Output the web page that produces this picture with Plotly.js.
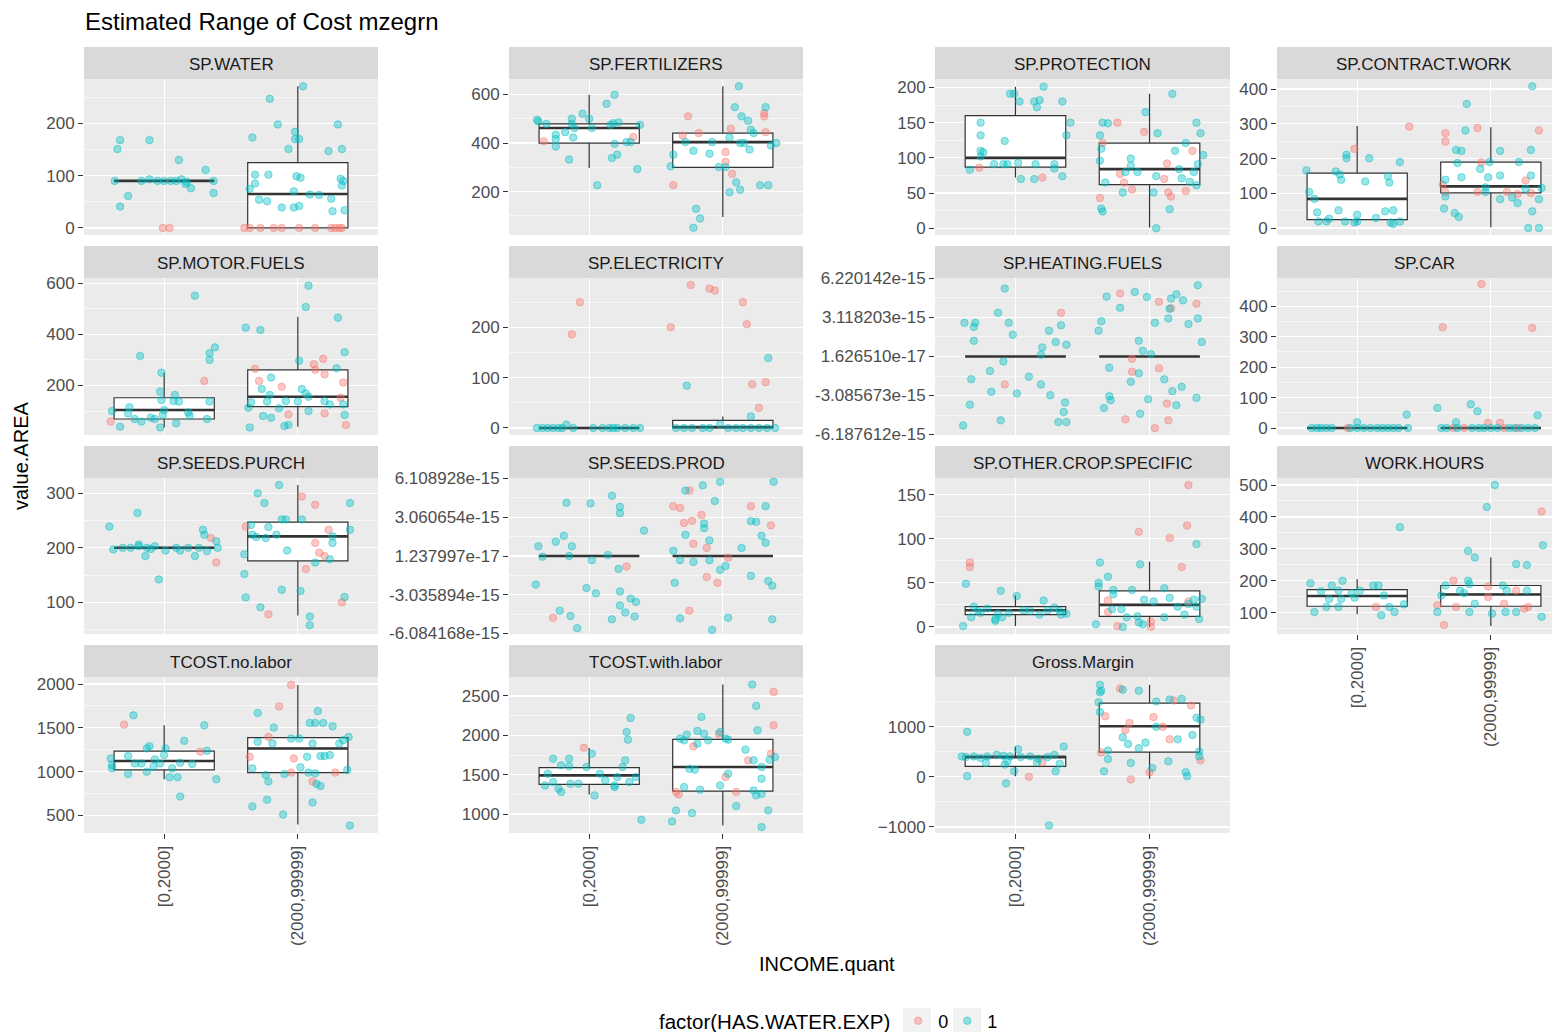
<!DOCTYPE html>
<html>
<head>
<meta charset="utf-8">
<script src="https://cdn.plot.ly/plotly-3.0.1.min.js"></script>
<style>
html,body{margin:0;padding:0;background:#ffffff;overflow:hidden}
#chart{width:1552px;height:1032px}
</style>
</head>
<body>
<div id="chart"></div>
<script>
// ---------------- DATA ----------------
const PANELS = ["SP.WATER","SP.FERTILIZERS","SP.PROTECTION","SP.CONTRACT.WORK",
  "SP.MOTOR.FUELS","SP.ELECTRICITY","SP.HEATING.FUELS","SP.CAR",
  "SP.SEEDS.PURCH","SP.SEEDS.PROD","SP.OTHER.CROP.SPECIFIC","WORK.HOURS",
  "TCOST.no.labor","TCOST.with.labor","Gross.Margin"];
const CATEGORIES = ["[0,2000]","(2000,99999]"];
const GROUPS = ["0","1"]; // HAS.WATER.EXP

// Box statistics per panel, category [0,2000]
const Q1_LOW  = [90,400,87,24,69,0,1.62651e-17,0,200,1.237997e-17,14,120,1019,1377,210];
const MED_LOW = [90,462,100,84,104,0,1.62651e-17,0,200,1.237997e-17,19,152,1121,1492,393];
const Q3_LOW  = [90,479,160,158,152,0,1.62651e-17,0,200,1.237997e-17,23,172,1234,1589,407];
const LW_LOW  = [90,297,72,16,36,0,1.62651e-17,0,200,1.237997e-17,1,95,913,1250,13];
const UW_LOW  = [90,599,201,294,250,0,1.62651e-17,0,200,1.237997e-17,36,205,1529,1839,603];
// category (2000,99999]
const Q1_HIGH  = [0,300,62,101,117,0,1.62651e-17,0,176,1.237997e-17,12,120,989,1292,492];
const MED_HIGH = [65,404,84,120,156,2,1.62651e-17,0,221,1.237997e-17,25,157,1265,1597,1010];
const Q3_HIGH  = [125,441,121,190,261,15,1.62651e-17,0,247,1.237997e-17,41,185,1389,1949,1469];
const LW_HIGH  = [0,95,1,2,39,0,1.62651e-17,0,76,1.237997e-17,0,58,395,856,-39];
const UW_HIGH  = [271,634,191,290,469,23,1.62651e-17,0,315,1.237997e-17,74,273,1990,2644,1836];

// tick labels of the two near-zero panels
const HEATING_TICKS = ["6.220142e-15","3.118203e-15","1.626510e-17","-3.085673e-15","-6.187612e-15"];
const SEEDSPROD_TICKS = ["6.108928e-15","3.060654e-15","1.237997e-17","-3.035894e-15","-6.084168e-15"];

// jittered points: [x position on INCOME.quant axis, value]
const WATER_0 = [[0.99,0],[1.04,0],[1.60,0],[1.64,0],[1.72,0],[1.82,0],[1.88,0],[2.01,0],[2.13,0],[2.25,0],[2.28,0],[2.31,0],[2.33,0]];
const WATER_1 = [[0.67,168],[0.65,151],[0.89,168],[1.11,130],[1.31,111],[0.73,61],[0.67,41],[1.37,67],[1.20,76],[0.63,90],[0.83,90],[0.89,93],[0.95,90],[1.00,90],[1.05,90],[1.09,90],[1.13,93],[1.17,88],[1.16,84],[1.37,90],
  [2.04,271],[1.79,247],[1.85,198],[2.30,198],[1.66,173],[1.98,184],[1.98,170],[2.01,170],[1.93,151],[2.33,151],[2.23,147],[1.68,102],[1.78,102],[1.68,85],[1.64,75],[1.99,99],[2.02,96],[2.32,94],[2.34,90],[2.33,81],[1.97,70],[2.09,64],[2.16,63],[1.71,54],[1.77,51],[2.25,56],[1.88,39],[1.97,39],[2.01,42],[2.26,32],[2.35,34]];

const FERT_0 = [[0.66,407],[1.33,425],[1.74,510],[2.31,523],[2.31,510],[2.06,459],[1.82,441],[1.70,431],[2.32,445],[2.02,363],[2.02,322],[2.07,273],[1.63,226]];
const FERT_1 = [[0.61,496],[0.62,489],[0.68,479],[0.75,434],[0.75,416],[0.75,386],[0.82,445],[0.85,332],[0.87,500],[0.87,479],[0.89,462],[0.88,423],[0.95,521],[1.00,500],[1.02,462],[1.06,226],[1.13,562],[1.19,599],[1.16,475],[1.18,482],[1.22,485],[1.19,397],[1.17,338],[1.21,352],[1.28,404],[1.31,404],[1.36,293],[1.38,475],
  [2.12,634],[2.09,548],[2.32,548],[2.14,510],[2.19,492],[2.23,441],[2.05,423],[1.72,404],[1.92,404],[2.13,400],[2.16,400],[2.40,400],[2.36,390],[2.20,373],[1.78,368],[1.90,356],[1.63,352],[1.97,301],[2.02,301],[1.61,304],[2.10,238],[2.13,208],[2.05,197],[2.28,226],[2.34,226],[1.80,129],[1.83,89],[1.78,51],[2.21,455]];

const PROT_0 = [[0.73,86],[1.20,72],[1.76,150],[1.96,137],[1.65,121],[2.32,110],[2.13,92],[1.78,77],[2.11,70],[1.81,65],[1.87,55],[2.14,51],[2.16,45],[2.27,53],[1.63,43]];
const PROT_1 = [[0.96,191],[0.99,191],[1.03,180],[1.14,180],[1.18,182],[1.16,172],[1.21,201],[1.35,180],[1.41,150],[1.38,132],[0.74,150],[0.74,132],[0.92,124],[0.74,110],[0.76,108],[0.74,102],[0.66,83],[0.84,91],[0.91,91],[0.94,91],[1.02,93],[1.15,91],[1.29,91],[1.29,85],[1.04,70],[1.14,70],[1.35,74],
  [2.17,191],[1.97,165],[1.65,150],[1.69,149],[2.35,150],[2.06,135],[1.63,132],[2.38,135],[2.27,121],[1.64,113],[2.19,110],[2.40,104],[1.63,96],[1.86,99],[1.86,89],[2.36,91],[1.82,80],[1.91,80],[2.22,84],[2.33,80],[2.05,74],[2.24,71],[1.67,65],[2.30,66],[2.35,61],[1.80,51],[2.03,51],[1.64,28],[1.65,24],[2.15,27],[2.05,0]];

const CONTRACT_0 = [[0.98,228],[1.39,292],[1.90,288],[2.36,281],[1.66,273],[1.66,249],[1.93,189],[1.64,125],[1.66,103],[1.90,104],[2.12,104],[2.26,137],[2.20,98],[2.30,101]];
const CONTRACT_1 = [[0.62,166],[0.64,104],[0.68,84],[0.70,45],[0.71,19],[0.77,19],[0.79,27],[0.84,163],[0.87,154],[0.88,139],[0.86,51],[0.91,19],[0.98,16],[1.00,19],[0.92,211],[0.92,201],[1.00,38],[1.06,134],[1.09,201],[1.14,29],[1.21,48],[1.27,51],[1.23,149],[1.24,131],[1.25,16],[1.27,12],[1.32,190],[1.32,19],
  [2.31,408],[1.82,357],[1.81,281],[1.74,225],[1.78,222],[2.07,222],[2.30,225],[1.75,187],[1.92,170],[1.99,190],[2.21,190],[1.78,146],[1.98,146],[2.07,151],[2.30,151],[1.66,139],[1.96,117],[1.96,104],[2.26,113],[2.38,115],[1.66,91],[2.07,83],[2.16,88],[2.20,72],[2.36,83],[1.65,56],[1.73,43],[1.76,32],[2.31,48],[2.28,0],[2.36,0]];

const MOTOR_0 = [[1.30,218],[0.60,59],[2.19,304],[2.12,283],[2.13,261],[2.20,244],[1.68,265],[1.71,218],[2.34,212],[2.32,152],[2.36,46],[2.20,91],[1.93,87],[1.88,195]];
const MOTOR_1 = [[1.23,551],[0.82,315],[0.98,250],[1.38,349],[1.34,326],[1.34,300],[0.61,100],[0.67,39],[0.74,115],[0.73,91],[0.78,69],[0.83,59],[0.90,74],[0.93,69],[0.97,36],[0.99,85],[0.97,176],[0.98,143],[1.00,104],[1.07,139],[1.08,163],[1.11,137],[1.09,52],[1.18,95],[1.19,82],[1.32,69],[1.34,137],
  [2.08,590],[2.06,507],[2.30,465],[1.61,426],[1.72,417],[2.35,330],[2.01,297],[2.29,267],[1.80,231],[1.73,186],[1.79,163],[1.77,137],[1.91,139],[2.03,186],[2.06,169],[2.08,156],[2.00,137],[1.86,111],[1.65,134],[1.63,113],[2.20,139],[2.24,126],[2.34,126],[2.35,85],[2.08,100],[1.74,81],[1.80,74],[1.93,46],[1.90,42],[1.64,36]];

const ELEC_0 = [[0.93,250],[0.87,186],[1.76,284],[1.90,277],[1.94,273],[2.15,250],[2.18,206],[1.61,200],[2.22,87],[2.32,91],[2.27,40]];
const ELEC_1 = [[0.61,0],[0.65,0],[0.69,0],[0.73,0],[0.77,0],[0.83,7],[0.88,0],[1.10,0],[1.15,0],[1.21,0],[1.27,0],[1.33,0],[1.38,0],[0.80,0],[1.18,0],[1.03,0],
  [2.34,139],[1.73,84],[2.21,23],[1.65,0],[1.71,0],[1.77,0],[1.85,0],[1.90,0],[1.98,7],[2.04,0],[2.10,0],[2.15,0],[2.21,0],[2.27,0],[2.33,0],[2.39,0]];

// values in units of 1e-15
const HEATING_0_E15 = [[1.34,3.49],[0.92,-2.20],[1.78,5.02],[2.07,4.37],[2.16,3.85],[2.35,4.21],[1.87,-0.17],[1.87,-1.19],[2.07,-0.92],[2.13,-3.73],[1.82,-4.98],[2.14,-5.06],[2.04,-5.68]];
const HEATING_1_E15 = [[0.92,5.42],[0.87,3.49],[0.62,2.69],[0.70,2.69],[0.69,2.37],[0.95,2.69],[1.34,2.50],[1.25,2.07],[0.98,1.75],[0.69,1.27],[1.30,1.17],[1.38,0.95],[1.20,0.74],[1.19,0.15],[0.91,-0.38],[0.81,-1.13],[0.67,-1.80],[1.10,-1.59],[1.19,-2.20],[0.82,-2.79],[1.01,-2.92],[1.26,-3.06],[0.66,-3.81],[1.37,-3.65],[1.36,-4.40],[0.89,-5.06],[1.32,-5.20],[1.38,-5.20],[0.61,-5.47],
  [2.36,5.68],[1.68,4.78],[1.89,5.15],[1.98,4.75],[2.16,4.62],[2.20,4.96],[2.25,4.48],[1.78,3.89],[1.64,2.82],[1.62,2.07],[2.04,2.69],[2.14,3.04],[2.29,2.61],[2.36,3.04],[2.39,1.17],[1.92,1.27],[1.95,0.47],[2.01,0.20],[1.70,-0.87],[1.92,-1.32],[2.11,-1.80],[1.86,-1.99],[2.17,-2.74],[2.24,-2.39],[1.70,-3.14],[1.71,-3.46],[1.99,-3.38],[2.20,-3.86],[2.35,-3.27],[1.66,-4.08],[1.93,-4.53],[2.15,3.81]];

const CAR_0 = [[0.93,0],[1.93,473],[1.64,331],[2.31,329],[1.98,17],[2.07,17],[1.80,0],[2.10,0],[2.20,0],[1.72,0]];
const CAR_1 = [[0.66,0],[0.70,0],[0.73,0],[0.77,0],[0.81,0],[0.95,0],[1.00,0],[1.05,0],[1.10,0],[1.15,0],[1.19,0],[1.23,0],[1.27,0],[1.31,0],[1.38,0],[1.00,19],[1.37,44],
  [1.60,66],[1.85,78],[1.90,55],[1.74,19],[2.35,42],[1.63,0],[1.67,0],[1.75,0],[1.86,0],[1.91,0],[1.95,0],[2.00,0],[2.05,0],[2.14,0],[2.18,0],[2.23,0],[2.28,0],[2.33,0]];

const PURCH_0 = [[1.35,218],[1.39,173],[2.03,294],[2.13,279],[1.61,239],[2.13,209],[2.23,233],[2.16,191],[2.20,185],[2.06,161],[1.78,78],[2.33,100]];
const PURCH_1 = [[0.59,239],[0.62,197],[0.80,264],[0.81,206],[0.86,185],[0.96,142],[0.69,200],[0.75,200],[0.81,203],[0.87,200],[0.90,198],[1.01,195],[1.09,200],[1.12,195],[1.18,200],[1.23,185],[1.26,200],[1.32,194],[1.29,233],[1.30,224],[1.39,212],[1.40,200],[0.93,203],
  [1.86,315],[1.70,300],[1.75,282],[2.39,282],[1.65,242],[1.66,224],[1.69,220],[1.78,238],[1.88,252],[1.91,252],[1.76,218],[1.84,224],[2.03,252],[2.26,209],[2.26,221],[2.39,233],[1.60,188],[1.92,195],[2.24,179],[2.13,173],[1.60,152],[1.88,123],[2.02,121],[1.61,109],[1.72,91],[2.09,74],[2.09,58],[2.35,110]];

const SEEDSPROD_0_E15 = [[1.28,-0.81],[0.73,-4.84],[1.75,5.16],[2.21,3.93],[1.63,3.93],[1.68,3.79],[1.84,3.24],[1.77,2.78],[1.71,2.61],[2.36,2.42],[1.78,0.97],[1.88,0.64],[2.04,-0.12],[1.88,-1.63],[1.96,-2.10],[1.75,-4.29]];
const SEEDSPROD_1_E15 = [[0.62,0.78],[0.65,-0.04],[0.75,1.14],[0.81,1.60],[0.87,0.78],[0.83,4.20],[1.01,4.15],[1.17,4.75],[1.23,3.88],[1.23,3.38],[1.41,2.01],[0.85,0.01],[1.02,-0.32],[1.14,0.09],[1.22,-1.00],[0.60,-2.23],[0.98,-2.51],[1.05,-2.92],[1.23,-2.78],[1.31,-3.33],[1.35,-3.60],[1.23,-3.88],[1.27,-4.43],[1.34,-4.75],[0.78,-4.29],[0.86,-4.70],[1.17,-4.97],[0.91,-5.66],
  [2.38,5.85],[1.85,5.57],[1.98,5.85],[1.72,5.16],[1.94,4.34],[2.32,3.93],[1.86,2.56],[2.21,2.75],[2.25,2.70],[1.86,2.20],[1.72,1.68],[2.29,1.60],[1.90,1.24],[2.14,0.64],[2.32,1.05],[1.63,0.42],[1.68,-0.32],[1.78,-0.45],[1.90,-0.32],[1.98,-1.08],[2.02,-0.78],[2.21,-1.55],[1.64,-2.10],[2.34,-1.96],[2.37,-2.32],[1.68,-4.89],[2.04,-4.84],[2.37,-4.97],[1.92,-5.80]];

const OTHER_0 = [[0.66,73],[0.66,68],[2.29,161],[2.28,115],[1.92,108],[2.15,101],[2.24,68],[1.69,30],[1.69,17],[2.29,29],[1.76,1],[2.01,6],[2.01,0]];
const OTHER_1 = [[0.63,49],[0.61,1],[0.67,11],[0.89,41],[1.01,35],[1.21,30],[0.69,23],[0.72,18],[0.79,21],[0.87,15],[0.85,9],[0.90,11],[0.95,16],[1.06,19],[1.11,18],[1.18,14],[1.24,19],[1.29,22],[1.33,18],[1.34,14],[1.38,15],[0.74,16],[0.85,7],
  [2.35,94],[1.63,73],[1.93,71],[1.69,57],[1.62,50],[1.62,46],[1.73,42],[1.73,37],[1.87,42],[2.11,44],[1.72,20],[1.79,20],[1.96,31],[2.03,29],[2.15,33],[2.21,23],[2.29,26],[2.33,31],[2.35,23],[2.39,32],[1.83,11],[1.91,12],[1.80,0],[1.60,3],[1.92,5],[1.95,3],[2.11,11],[2.26,14],[2.37,9]];

const WORK_0 = [[1.14,118],[2.38,417],[1.72,200],[1.74,118],[1.98,182],[1.98,149],[2.10,128],[2.19,169],[2.28,118],[2.25,112],[1.65,61],[1.60,123]];
const WORK_1 = [[1.32,368],[0.65,192],[0.68,102],[0.73,167],[0.79,143],[0.81,185],[0.86,169],[0.88,143],[0.89,200],[0.86,118],[0.96,161],[0.98,147],[1.02,169],[1.12,185],[1.16,185],[1.20,154],[1.18,92],[1.24,118],[1.28,102],[1.35,126],[0.77,118],
  [2.03,500],[1.97,431],[2.39,311],[1.83,293],[1.88,273],[2.19,252],[2.27,249],[1.83,200],[1.84,190],[1.66,185],[1.77,169],[1.80,161],[1.63,154],[1.60,102],[2.09,185],[2.12,169],[2.27,169],[2.19,102],[2.11,102],[2.01,97],[2.38,87],[1.88,128],[1.84,102]];

const TCNO_0 = [[0.70,1537],[1.27,1227],[1.95,1990],[1.86,1745],[1.78,1397],[1.64,1170],[1.97,1151],[1.95,989],[2.11,887],[2.28,989]];
const TCNO_1 = [[0.77,1643],[1.30,1529],[0.60,1151],[0.61,1038],[0.61,1076],[0.73,1178],[0.73,974],[0.78,1094],[0.83,1094],[0.89,1291],[0.87,1265],[0.87,1000],[0.92,1057],[0.93,1140],[0.97,1094],[1.01,1265],[1.00,1189],[1.04,936],[1.06,1038],[1.10,936],[1.12,716],[1.15,1352],[1.12,1102],[1.21,1087],[1.32,1238],[1.39,913],
  [1.70,1669],[2.15,1692],[2.09,1556],[2.13,1556],[2.19,1556],[2.01,1378],[1.95,1378],[2.26,1518],[1.82,1503],[1.70,1340],[1.81,1321],[2.07,1170],[2.02,1049],[2.11,1321],[2.17,1178],[2.20,1178],[1.66,1038],[1.76,962],[1.78,887],[1.90,974],[2.08,989],[2.13,981],[2.14,860],[2.17,837],[2.37,1019],[2.34,1359],[2.38,1397],[2.31,1321],[2.24,1189],[1.66,603],[1.77,679],[1.89,509],[2.11,648],[2.39,384]];

const TCWITH_0 = [[0.96,1843],[2.38,2551],[2.38,2127],[1.97,2017],[1.78,1860],[2.19,1682],[2.36,1767],[2.02,1470],[1.65,1280],[1.67,1250],[2.10,1280]];
const TCWITH_1 = [[1.31,2220],[1.28,2042],[1.29,1945],[1.39,928],[1.02,1767],[0.73,1703],[0.85,1703],[0.79,1619],[0.85,1606],[0.69,1513],[0.67,1364],[0.77,1322],[0.79,1280],[0.73,1407],[0.86,1386],[0.92,1386],[1.04,1237],[1.08,1513],[1.12,1428],[1.21,1470],[1.19,1364],[1.27,1682],[1.25,1597],[0.98,1597],[1.30,1407],[1.35,1470],[1.19,1343],
  [2.22,2644],[2.25,2373],[1.84,2233],[2.26,2064],[1.81,2055],[1.73,2008],[1.98,2042],[1.68,1958],[1.71,1936],[1.86,2021],[1.89,1936],[2.02,1958],[2.04,1945],[2.17,1818],[1.81,1894],[1.75,1576],[1.79,1564],[2.23,1682],[2.39,1725],[2.35,1691],[2.29,1597],[2.04,1513],[1.71,1343],[1.83,1309],[1.98,1364],[2.23,1301],[2.25,1237],[2.29,1258],[2.29,1449],[2.10,1102],[1.65,1047],[1.77,1013],[1.62,907],[2.34,1047],[2.29,835]];

const GROSS_0 = [[1.10,0],[1.20,289],[1.78,1764],[2.18,1521],[2.31,1423],[1.67,1206],[1.85,1075],[2.03,1193],[2.10,997],[1.82,931],[2.15,747],[1.64,485],[2.38,328],[2.00,92],[1.86,-52]];
const GROSS_1 = [[0.64,898],[0.60,407],[0.63,393],[0.69,407],[0.74,374],[0.79,407],[0.86,439],[0.91,420],[0.96,407],[1.02,551],[1.04,393],[1.11,407],[1.17,360],[1.24,393],[1.29,439],[1.36,603],[0.78,275],[0.92,243],[0.94,308],[0.93,-131],[0.99,111],[0.64,13],[1.16,289],[1.30,111],[1.33,262],[1.25,-970],
  [1.63,1836],[1.64,1718],[1.63,1685],[1.80,1738],[1.92,1718],[1.62,1488],[1.63,1292],[2.05,1502],[2.15,1541],[2.24,1554],[2.35,1180],[2.38,1141],[2.05,997],[1.80,787],[1.84,656],[1.92,570],[1.97,682],[2.21,747],[2.32,833],[1.69,525],[1.69,354],[2.37,505],[2.37,407],[1.66,111],[1.86,275],[2.02,177],[2.14,308],[2.27,92],[2.28,13]];

// ---------------- BUILD ----------------
const E15 = 1e-15;
const toReal = arr => arr.map(p => [p[0], p[1] * E15]);
const PTS_0 = [WATER_0, FERT_0, PROT_0, CONTRACT_0, MOTOR_0, ELEC_0, toReal(HEATING_0_E15), CAR_0,
  PURCH_0, toReal(SEEDSPROD_0_E15), OTHER_0, WORK_0, TCNO_0, TCWITH_0, GROSS_0];
const PTS_1 = [WATER_1, FERT_1, PROT_1, CONTRACT_1, MOTOR_1, ELEC_1, toReal(HEATING_1_E15), CAR_1,
  PURCH_1, toReal(SEEDSPROD_1_E15), OTHER_1, WORK_1, TCNO_1, TCWITH_1, GROSS_1];

// axis options (style / layout)
const Y_DTICK = [100,200,50,100,200,100,null,100,100,null,50,100,500,500,1000];
const Y_RANGE = [[-13.5,285],[21,664],[-9.5,212],[-20,429],[6.5,620],[-14,298],null,[-23,493],
  [42,328],null,[-8,169],[33,522],[299,2081],[760,2740],[-1121,1991]];
const CUSTOM_TICKS = {6: HEATING_TICKS, 9: SEEDSPROD_TICKS};

const W = 1552, H = 1032;
const COL_PX = [[84,378],[509,803],[935,1230],[1277,1571]];
const ROW_PX = [[79,235],[278,435],[478,634],[677,833]];
const STRIP_PX = 32;
const KEY_PX = [[903,931],[953,981]];
const FONT = 'Liberation Sans, Arial, Helvetica, sans-serif';
const COLORS = {"0": '#F8766D', "1": '#00BFC4'};
function rgba(hex, a) {
  const n = parseInt(hex.slice(1), 16);
  return 'rgba(' + (n >> 16) + ',' + ((n >> 8) & 255) + ',' + (n & 255) + ',' + a + ')';
}

const traces = [];
const shapes = [];
const annotations = [];
const layout = {
  width: W, height: H,
  margin: {l: 0, r: 0, t: 0, b: 0, autoexpand: false},
  paper_bgcolor: '#FFFFFF',
  plot_bgcolor: '#EBEBEB',
  font: {family: FONT, color: '#000000'},
  showlegend: true,
  hovermode: false,
  boxmode: 'overlay',
  title: {
    text: 'Estimated Range of Cost mzegrn',
    x: 85 / W, xanchor: 'left', xref: 'paper',
    y: 1 - 22 / H, yanchor: 'middle', yref: 'container',
    font: {size: 24, family: FONT, color: '#000000'}
  },
  legend: {
    orientation: 'h', x: 657 / W, xanchor: 'left',
    y: 1 - 1021 / H, yanchor: 'middle',
    title: {text: 'factor(HAS.WATER.EXP)', side: 'left', font: {size: 20.5, family: FONT, color: '#000000'}},
    font: {size: 18, family: FONT, color: '#000000'},
    bgcolor: 'rgba(0,0,0,0)', entrywidth: 4, entrywidthmode: 'pixels', tracegroupgap: 0
  }
};

PANELS.forEach((name, i) => {
  const r = Math.floor(i / 4), c = i % 4;
  const ax = i === 0 ? '' : String(i + 1);
  const [x0, x1] = COL_PX[c];
  const xEnd = Math.min(x1, W);
  const xMax = 0.4 + 2.2 * (xEnd - x0) / (x1 - x0);
  const [y0, y1] = ROW_PX[r];
  const bottom = i >= 11;

  layout['xaxis' + ax] = {
    domain: [x0 / W, xEnd / W], anchor: 'y' + ax, range: [0.4, xMax],
    tickmode: 'array', tickvals: [1, 2], ticktext: CATEGORIES,
    showgrid: true, gridcolor: '#FFFFFF', gridwidth: 1.2, zeroline: false, showline: false,
    ticks: bottom ? 'outside' : '', ticklen: 5, tickwidth: 1, tickcolor: '#333333',
    showticklabels: bottom, tickangle: -90,
    tickfont: {size: 17, family: FONT, color: '#4D4D4D'}, fixedrange: true
  };

  const yax = {
    domain: [1 - y1 / H, 1 - y0 / H], anchor: 'x' + ax,
    showgrid: true, gridcolor: '#FFFFFF', gridwidth: 1.2, zeroline: false, showline: false,
    ticks: 'outside', ticklen: 5, tickwidth: 1, tickcolor: '#333333',
    tickfont: {size: 17, family: FONT, color: '#4D4D4D'}, fixedrange: true
  };
  if (CUSTOM_TICKS[i]) {
    const labels = CUSTOM_TICKS[i];
    const vals = labels.map(Number);
    const lo = Math.min(...vals), hi = Math.max(...vals), span = hi - lo;
    yax.range = [lo - 0.003 * span, hi + 0.003 * span];
    yax.tickmode = 'array'; yax.tickvals = vals; yax.ticktext = labels;
    const mids = [];
    for (let k = 0; k < vals.length - 1; k++) mids.push((vals[k] + vals[k + 1]) / 2);
    yax.minor = {tickmode: 'array', tickvals: mids, showgrid: true, gridcolor: '#FFFFFF', gridwidth: 0.6, ticks: ''};
  } else {
    yax.range = Y_RANGE[i];
    yax.tickmode = 'linear'; yax.tick0 = 0; yax.dtick = Y_DTICK[i];
    yax.minor = {tickmode: 'linear', tick0: 0, dtick: Y_DTICK[i] / 2, showgrid: true, gridcolor: '#FFFFFF', gridwidth: 0.6, ticks: ''};
  }
  layout['yaxis' + ax] = yax;

  // strip
  shapes.push({type: 'rect', xref: 'paper', yref: 'paper', layer: 'above',
    x0: x0 / W, x1: xEnd / W, y0: 1 - y0 / H, y1: 1 - (y0 - STRIP_PX) / H,
    fillcolor: '#D9D9D9', line: {width: 0}});
  annotations.push({xref: 'paper', yref: 'paper', x: (x0 + x1) / 2 / W, y: 1 - (y0 - STRIP_PX / 2 + 1) / H,
    xanchor: 'center', yanchor: 'middle', showarrow: false, text: name,
    font: {size: 17, family: FONT, color: '#1A1A1A'}});

  // boxplot (hinges + whiskers)
  traces.push({
    type: 'box', xaxis: 'x' + ax, yaxis: 'y' + ax, x: [1, 2],
    q1: [Q1_LOW[i], Q1_HIGH[i]], median: [MED_LOW[i], MED_HIGH[i]], q3: [Q3_LOW[i], Q3_HIGH[i]],
    lowerfence: [LW_LOW[i], LW_HIGH[i]], upperfence: [UW_LOW[i], UW_HIGH[i]],
    width: 0.75, whiskerwidth: 0, boxpoints: false, fillcolor: '#FFFFFF',
    line: {color: '#333333', width: 1.2}, showlegend: false, hoverinfo: 'skip'
  });
  // thick median bar
  traces.push({
    type: 'box', xaxis: 'x' + ax, yaxis: 'y' + ax, x: [1, 2],
    q1: [MED_LOW[i], MED_HIGH[i]], median: [MED_LOW[i], MED_HIGH[i]], q3: [MED_LOW[i], MED_HIGH[i]],
    lowerfence: [MED_LOW[i], MED_HIGH[i]], upperfence: [MED_LOW[i], MED_HIGH[i]],
    width: 0.75, whiskerwidth: 0, boxpoints: false, fillcolor: 'rgba(0,0,0,0)',
    line: {color: '#333333', width: 2.6}, showlegend: false, hoverinfo: 'skip'
  });
  // jittered points
  [[PTS_0[i], '0'], [PTS_1[i], '1']].forEach(([pts, g]) => {
    traces.push({
      type: 'scatter', mode: 'markers', xaxis: 'x' + ax, yaxis: 'y' + ax,
      x: pts.map(p => p[0]), y: pts.map(p => p[1]),
      name: g, legendgroup: g, showlegend: i === 0,
      marker: {size: 7.5, color: rgba(COLORS[g], 0.4), line: {width: 1, color: rgba(COLORS[g], 0.45)}},
      hoverinfo: 'skip', cliponaxis: true
    });
  });
});

// legend key backgrounds
KEY_PX.forEach(([k0, k1]) => {
  shapes.push({type: 'rect', xref: 'paper', yref: 'paper', layer: 'below',
    x0: k0 / W, x1: k1 / W, y0: 0, y1: (H - 1008) / H,
    fillcolor: '#F2F2F2', line: {width: 0}});
});

annotations.push({xref: 'paper', yref: 'paper', x: 21 / W, y: 1 - 456 / H, textangle: -90,
  xanchor: 'center', yanchor: 'middle', showarrow: false, text: 'value.AREA',
  font: {size: 20, family: FONT, color: '#000000'}});
annotations.push({xref: 'paper', yref: 'paper', x: 827 / W, y: 1 - 964 / H,
  xanchor: 'center', yanchor: 'middle', showarrow: false, text: 'INCOME.quant',
  font: {size: 20, family: FONT, color: '#000000'}});

layout.shapes = shapes;
layout.annotations = annotations;

Plotly.newPlot('chart', traces, layout, {displayModeBar: false, staticPlot: true});
</script>
</body>
</html>
